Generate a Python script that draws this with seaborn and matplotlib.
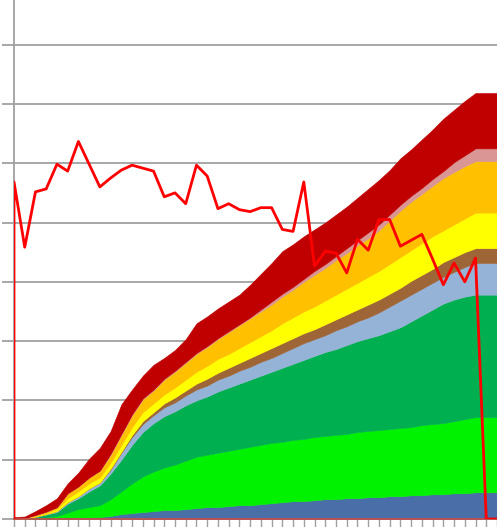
import matplotlib
matplotlib.use("Agg")
import matplotlib.pyplot as plt
import pandas as pd
import seaborn as sns
from matplotlib.ticker import MultipleLocator

# category index (one tick per period)
weeks = list(range(46))

# stacked layers, bottom to top
blue = [0, 0, 0, 0, 0, 0.5, 1, 1.5, 2, 3, 5, 6, 7, 8, 9, 9, 10, 11, 12, 12, 13, 14, 14, 15, 16, 17,
        18, 18, 19, 20, 20, 21, 21, 22, 22, 23, 23, 24, 24, 25, 25, 26, 26, 27, 27, 27]
bright_green = [0, 0, 0.5, 1.5, 3, 6, 9, 10.5, 12, 17, 23, 30, 36, 40, 43, 46, 49, 52, 53, 55, 56, 57,
                59, 60, 61, 61, 62, 63, 64, 64, 65, 65, 67, 67, 68, 68, 69, 69, 71, 71, 72, 73, 75, 76, 76, 76]
green = [0, 0.5, 1.5, 3, 4, 9, 11, 16, 20, 26, 32, 39, 45, 49, 52, 54, 56, 57, 59, 62, 64, 66, 68, 70,
         72, 75, 77, 80, 82, 85, 87, 90, 92, 94, 96, 99, 102, 107, 111, 116, 121, 123, 124, 124, 124, 124]
light_blue = [0, 0, 0.5, 0.5, 1, 1.5, 2, 3, 3, 4, 7, 8, 8, 8, 9, 9, 10, 11, 11, 12, 12, 13, 13, 14, 14,
              15, 16, 17, 17, 17, 19, 19, 20, 21, 23, 25, 27, 27, 27, 27, 27, 28, 30, 32, 32, 32]
brown = [0, 0, 0, 0, 0, 0, 0, 0, 0, 1, 1, 2, 3, 3, 4, 5, 5, 6, 7, 7, 8, 8, 9, 9, 10, 10, 10, 10, 10,
         11, 11, 12, 12, 13, 13, 13, 13, 14, 14, 14, 15, 15, 15, 15, 15, 15]
yellow = [0, 0.2, 0.5, 1, 2, 4, 5, 5, 5, 6, 7, 8, 9, 9, 9, 10, 11, 12, 13, 14, 14, 15, 16, 17, 18, 20,
          21, 22, 23, 24, 25, 26, 27, 28, 29, 30, 31, 31, 32, 33, 32, 33, 34, 36, 36, 36]
orange = [0, 0.3, 1, 1.5, 2, 5, 5, 6, 7, 8, 10, 12, 13, 13, 15, 16, 17, 18, 19, 20, 22, 23, 24, 25, 26,
          27, 28, 30, 32, 33, 35, 36, 38, 39, 41, 44, 47, 49, 50, 51, 53, 53, 53, 52, 52, 52]
pink = [0, 0, 0, 0, 0, 0, 0, 0, 0, 1, 1, 1, 1, 1, 1, 1, 1, 1, 1, 1, 1, 1, 1, 2, 3, 3, 3, 3, 4, 4, 4,
        5, 5, 6, 6, 6, 6, 6, 6, 7, 7, 10, 11, 13, 13, 13]
dark_red = [2, 1.5, 4, 6.5, 9, 10, 14, 19, 23, 23, 30, 25, 23, 25, 21, 21, 23, 30, 30, 30, 30, 30, 33,
            36, 39, 43, 43, 43, 42, 42, 42, 42, 43, 44, 45, 45, 47, 47, 49, 50, 53, 53, 55, 56, 56, 56]

# overlay line (starts from zero on the first category)
line_vals = [341, 275, 331, 334, 359, 352, 382, 359, 336, 345,
             353, 358, 355, 352, 326, 330, 319, 358, 347, 314,
             319, 313, 311, 315, 315, 293, 291, 341, 256, 271,
             269, 249, 283, 272, 303, 303, 276, 282, 288, 263,
             237, 259, 240, 264, 0, 0]

layer_colors = ["#4a6ea8", "#00f200", "#00b050", "#95b3d7", "#9e6536",
                "#ffff00", "#ffc000", "#d99694", "#c00000"]

sns.set_style("white")
fig = plt.figure(figsize=(4.97, 5.27), dpi=100)
# plot area is cropped at the top and right edge of the image
ax = fig.add_axes([14 / 497, 8 / 527, 483 / 497, 9 * 59.3 / 527])

ax.stackplot(weeks, blue, bright_green, green, light_blue, brown, yellow, orange, pink, dark_red,
             colors=layer_colors, linewidth=0.4, edgecolor="face", zorder=2)

line_df = pd.DataFrame({"week": [weeks[0]] + weeks, "value": [0] + line_vals})
sns.lineplot(data=line_df, x="week", y="value", sort=False, estimator=None,
             color="#ff0000", linewidth=2.0, ax=ax, zorder=5)

ax.set_xlim(0, 44.48)
ax.set_ylim(0, 540)
ax.yaxis.set_major_locator(MultipleLocator(60))
ax.set_xticks(weeks)
ax.grid(axis="y", color="#a0a0a0", linewidth=1.3)
ax.grid(axis="x", visible=False)
ax.set_axisbelow(True)
ax.tick_params(axis="y", left=True, direction="out", length=9, color="#a0a0a0", width=1.3, labelleft=False)
ax.tick_params(axis="x", bottom=True, direction="out", length=7, color="#a0a0a0", width=1.0, labelbottom=False)
ax.set_xlabel("")
ax.set_ylabel("")

for side in ["top", "right"]:
    ax.spines[side].set_visible(False)
ax.spines["left"].set_color("#a0a0a0")
ax.spines["left"].set_linewidth(1.3)
ax.spines["bottom"].set_color("#c0504d")
ax.spines["bottom"].set_linewidth(1.3)

fig.savefig("out.png", dpi=100)
plt.close(fig)
